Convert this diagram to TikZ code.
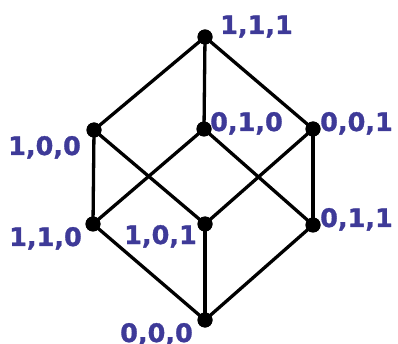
\documentclass[tikz,border=0pt]{standalone}
\usepackage{fontspec}
\setmainfont{DejaVu Sans}
\newfontfamily\labfont[FakeBold=1.2]{DejaVu Sans Bold}
\definecolor{lab}{RGB}{62,58,152}
\begin{document}
\begin{tikzpicture}[x=1pt,y=-1pt,
  vtx/.style={circle,fill=black,inner sep=0pt,minimum size=15pt},
  edge/.style={line width=3.3pt,black},
  lbl/.style={inner sep=0pt,anchor=base west,text=lab,font=\labfont\fontsize{25.5}{25.5}\selectfont}]
\useasboundingbox (0,0) rectangle (398,344);
\node[vtx] (a111) at (205,37) {};
\node[vtx] (a100) at (94,130) {};
\node[vtx] (a010) at (204,129) {};
\node[vtx] (a001) at (313,129) {};
\node[vtx] (a110) at (93,224) {};
\node[vtx] (a101) at (205,224) {};
\node[vtx] (a011) at (313,225) {};
\node[vtx] (a000) at (205,320) {};
\draw[edge] (a111.center) -- (a100.center);
\draw[edge] (a111.center) -- (a010.center);
\draw[edge] (a111.center) -- (a001.center);
\draw[edge] (a100.center) -- (a110.center);
\draw[edge] (a100.center) -- (a101.center);
\draw[edge] (a010.center) -- (a110.center);
\draw[edge] (a010.center) -- (a011.center);
\draw[edge] (a001.center) -- (a101.center);
\draw[edge] (a001.center) -- (a011.center);
\draw[edge] (a110.center) -- (a000.center);
\draw[edge] (a101.center) -- (a000.center);
\draw[edge] (a011.center) -- (a000.center);
\node[vtx] at (a111) {};
\node[vtx] at (a100) {};
\node[vtx] at (a010) {};
\node[vtx] at (a001) {};
\node[vtx] at (a110) {};
\node[vtx] at (a101) {};
\node[vtx] at (a011) {};
\node[vtx] at (a000) {};
\node[lbl] (t111) at (220,34) {1,1,1};
\node[lbl] (t010) at (210,131) {0,1,0};
\node[lbl] (t001) at (320,131) {0,0,1};
\node[lbl] (t100) at (8,155) {1,0,0};
\node[lbl] (t110) at (9,246) {1,1,0};
\node[lbl] (t101) at (124,244) {1,0,1};
\node[lbl] (t011) at (320,227) {0,1,1};
\node[lbl] (t000) at (120,342) {0,0,0};
\end{tikzpicture}
\end{document}
